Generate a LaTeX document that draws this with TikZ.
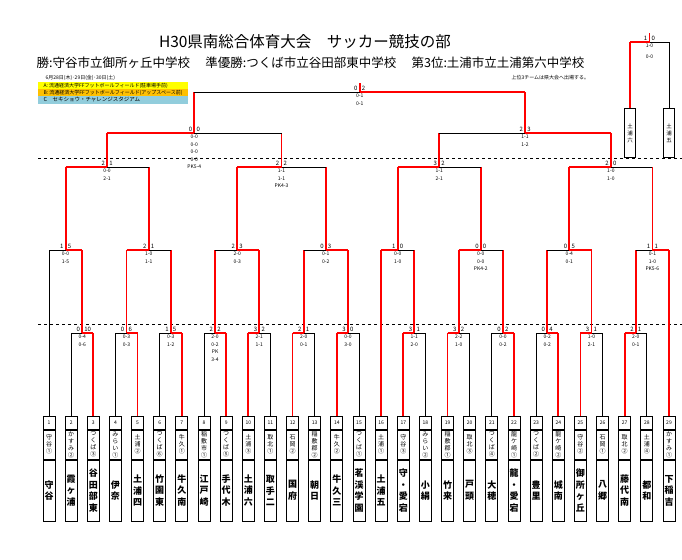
\documentclass[tikz,border=0pt]{standalone}
\usepackage{fontspec}
\setmainfont{Noto Sans CJK JP}
\usetikzlibrary{calc}
\definecolor{lgy}{HTML}{FFFF00}
\definecolor{lor}{HTML}{FFC000}
\definecolor{lbl}{HTML}{92CDDC}
\tikzset{
  bk/.style={line width=0.8pt,black},
  rd/.style={line width=1.8pt,red},
  lblx/.style={font=\fontsize{6}{6}\selectfont,inner sep=0.5pt},
  scx/.style={font=\fontsize{5}{7.5}\selectfont,inner sep=0.5pt,align=center},
  numb/.style={draw,line width=0.8pt,minimum width=12pt,minimum height=13pt,inner sep=0pt,font=\fontsize{5}{5}\selectfont,anchor=north},
  shortb/.style={draw,line width=0.8pt,minimum width=12pt,minimum height=29pt,inner sep=0pt,font=\fontsize{6}{7}\selectfont,align=center,anchor=north},
  fullb/.style={draw,line width=0.8pt,minimum width=12pt,minimum height=61pt,inner sep=0pt,font=\bfseries\fontsize{9}{11.5}\selectfont,align=center,anchor=north},
}
\newcommand\mt[8]{%
  \path let \p1=(#2), \p2=(#3) in coordinate (#1) at ({(\x1+\x2)/2},-#4pt);
  \draw[#5] (#2) -- (#2 |- #1);
  \draw[#6] (#3) -- (#3 |- #1);
  \draw[#7] (#2 |- #1) -- (#1);
  \draw[#8] (#1) -- (#3 |- #1);
}
\newcommand\lab[4]{%
  \node[lblx,anchor=south east] (#1-a) at ([xshift=-1.5pt,yshift=1pt]#1) {#2};
  \node[lblx,anchor=south west] (#1-b) at ([xshift=1.5pt,yshift=1pt]#1) {#3};
  \node[scx,anchor=north] (#1-s) at ([yshift=-1.5pt]#1) {#4};
}
\begin{document}
\begin{tikzpicture}[x=1pt,y=-1pt]
\useasboundingbox (0,0) rectangle (682,559);
% header
\node[font=\fontsize{15.5}{15.5}\selectfont] (title) at (305,42) {H30県南総合体育大会　サッカー競技の部};
\node[font=\fontsize{12.5}{12.5}\selectfont,anchor=west] (sub) at (33,63) {勝:守谷市立御所ヶ丘中学校　 準優勝:つくば市立谷田部東中学校　 第3位:土浦市立土浦第六中学校};
\node[font=\fontsize{5}{5}\selectfont,anchor=west] (date) at (42,78) {6月28日(木)･29日(金)･30日(土)};
\node[font=\fontsize{5}{5}\selectfont,anchor=west] (note) at (508,78) {上位3チームは県大会へ出場する。};
\node[fill=lgy,minimum width=150pt,minimum height=7pt,inner sep=0pt,anchor=north west] (la) at (38,82) {};
\node[font=\fontsize{5}{5}\selectfont,anchor=west] (lat) at (40,85.5) {A: 流通経済大学FFフットボールフィールド(駐車場手前)};
\node[fill=lor,minimum width=150pt,minimum height=7pt,inner sep=0pt,anchor=north west] (lb) at (38,89) {};
\node[font=\fontsize{5}{5}\selectfont,anchor=west] (lbt) at (40,92.5) {B: 流通経済大学FFフットボールフィールド(アップスペース前)};
\node[fill=lbl,minimum width=150pt,minimum height=8pt,inner sep=0pt,anchor=north west] (lc) at (38,96) {};
\node[font=\fontsize{5.5}{5.5}\selectfont,anchor=west] (lct) at (40,100) {C　セキショウ・チャレンジスタジアム};
% dashed lines
\coordinate (d1l) at (38,158); \coordinate (d1r) at (682,158);
\coordinate (d2l) at (38,324); \coordinate (d2r) at (682,324);
\draw[dashed,line width=0.7pt] (d1l) -- (d1r);
\draw[dashed,line width=0.7pt] (d2l) -- (d2r);
% teams
\foreach \i/\s/\f in {1/{守\\谷\\①}/{守\\谷},2/{か\\す\\み\\②}/{霞\\ヶ\\浦},3/{つ\\く\\ば\\③}/{谷\\田\\部\\東},4/{み\\ら\\い\\①}/{伊\\奈},5/{土\\浦\\②}/{土\\浦\\四},6/{つ\\く\\ば\\⑥}/{竹\\園\\東},7/{牛\\久\\①}/{牛\\久\\南},8/{稲\\敷\\市\\①}/{江\\戸\\崎},9/{つ\\く\\ば\\⑤}/{手\\代\\木},10/{土\\浦\\③}/{土\\浦\\六},11/{取\\北\\①}/{取\\手\\二},12/{石\\岡\\②}/{国\\府},13/{稲\\敷\\郡\\②}/{朝\\日},14/{牛\\久\\②}/{牛\\久\\三},15/{つ\\く\\ば\\①}/{茗\\渓\\学\\園},16/{土\\浦\\①}/{土\\浦\\五},17/{守\\谷\\③}/{守\\・\\愛\\宕},18/{み\\ら\\い\\②}/{小\\絹},19/{稲\\敷\\郡\\①}/{竹\\来},20/{取\\北\\③}/{戸\\頭},21/{つ\\く\\ば\\④}/{大\\穂},22/{龍\\ケ\\崎\\①}/{龍\\・\\愛\\宕},23/{つ\\く\\ば\\②}/{豊\\里},24/{龍\\ケ\\崎\\②}/{城\\南},25/{守\\谷\\②}/{御\\所\\ヶ\\丘},26/{石\\岡\\①}/{八\\郷},27/{取\\北\\②}/{藤\\代\\南},28/{土\\浦\\④}/{都\\和},29/{か\\す\\み\\①}/{下\\稲\\吉}}{
  \node[numb] (tn\i) at ({49+(\i-1)*22.143},416) {\i};
  \node[shortb] (ts\i) at (tn\i.south) {\s};
  \node[fullb] (tf\i) at (ts\i.south) {\f};
  \coordinate (T\i) at (tn\i.north);
}
% round 1
\mt{r1a}{T2}{T3}{333}{bk}{rd}{bk}{rd}\lab{r1a}{0}{10}{0-4\\0-6}
\mt{r1b}{T4}{T5}{333}{bk}{rd}{bk}{rd}\lab{r1b}{0}{6}{0-3\\0-3}
\mt{r1c}{T6}{T7}{333}{bk}{rd}{bk}{rd}\lab{r1c}{1}{5}{0-3\\1-2}
\mt{r1d}{T8}{T9}{333}{bk}{rd}{bk}{rd}\lab{r1d}{2}{2}{2-0\\0-2\\PK\\3-4}
\mt{r1e}{T10}{T11}{333}{rd}{bk}{rd}{bk}\lab{r1e}{3}{2}{2-1\\1-1}
\mt{r1f}{T12}{T13}{333}{rd}{bk}{rd}{bk}\lab{r1f}{2}{1}{2-0\\0-1}
\mt{r1g}{T14}{T15}{333}{rd}{bk}{rd}{bk}\lab{r1g}{3}{0}{0-0\\3-0}
\mt{r1h}{T17}{T18}{333}{rd}{bk}{rd}{bk}\lab{r1h}{3}{1}{1-1\\2-0}
\mt{r1i}{T19}{T20}{333}{rd}{bk}{rd}{bk}\lab{r1i}{3}{2}{2-2\\1-0}
\mt{r1j}{T21}{T22}{333}{bk}{rd}{bk}{rd}\lab{r1j}{0}{2}{0-0\\0-2}
\mt{r1k}{T23}{T24}{333}{bk}{rd}{bk}{rd}\lab{r1k}{0}{4}{0-2\\0-2}
\mt{r1l}{T25}{T26}{333}{rd}{bk}{rd}{bk}\lab{r1l}{3}{1}{1-0\\2-1}
\mt{r1m}{T27}{T28}{333}{rd}{bk}{rd}{bk}\lab{r1m}{2}{1}{2-0\\0-1}
% round 2
\mt{r2a}{T1}{r1a}{250}{bk}{rd}{bk}{rd}\lab{r2a}{1}{5}{0-0\\1-5}
\mt{r2b}{r1b}{r1c}{250}{rd}{rd}{rd}{bk}\lab{r2b}{2}{1}{1-0\\1-1}
\mt{r2c}{r1d}{r1e}{250}{rd}{rd}{bk}{rd}\lab{r2c}{2}{3}{2-0\\0-3}
\mt{r2d}{r1f}{r1g}{250}{rd}{rd}{bk}{rd}\lab{r2d}{0}{3}{0-1\\0-2}
\mt{r2e}{T16}{r1h}{250}{rd}{rd}{rd}{bk}\lab{r2e}{1}{0}{0-0\\1-0}
\mt{r2f}{r1i}{r1j}{250}{rd}{rd}{rd}{bk}\lab{r2f}{0}{0}{0-0\\0-0\\PK4-2}
\mt{r2g}{r1k}{r1l}{250}{rd}{rd}{bk}{rd}\lab{r2g}{0}{5}{0-4\\0-1}
\mt{r2h}{r1m}{T29}{250}{rd}{rd}{bk}{rd}\lab{r2h}{1}{1}{0-1\\1-0\\PK5-6}
% quarterfinals
\mt{qa}{r2a}{r2b}{167}{rd}{rd}{rd}{bk}\lab{qa}{2}{1}{0-0\\2-1}
\mt{qb}{r2c}{r2d}{167}{rd}{rd}{rd}{bk}\lab{qb}{2}{2}{1-1\\1-1\\PK4-3}
\mt{qc}{r2e}{r2f}{167}{rd}{rd}{rd}{bk}\lab{qc}{3}{2}{1-1\\2-1}
\mt{qd}{r2g}{r2h}{167}{rd}{rd}{rd}{bk}\lab{qd}{2}{0}{1-0\\1-0}
% semifinals
\mt{sa}{qa}{qb}{133}{rd}{rd}{rd}{bk}\lab{sa}{0}{0}{0-0\\0-0\\0-0\\0-0\\PK5-4}
\mt{sb}{qc}{qd}{133}{rd}{rd}{bk}{rd}\lab{sb}{2}{3}{1-1\\1-2}
% final
\mt{fin}{sa}{sb}{92}{rd}{rd}{bk}{rd}\lab{fin}{0}{2}{0-1\\0-1}
\coordinate (fintop) at ($(fin)+(0,-9)$);
\draw[rd] (fin) -- (fintop);
% third place
\node[draw,line width=0.8pt,minimum width=11pt,minimum height=49pt,inner sep=0pt,anchor=north,font=\fontsize{5.5}{7}\selectfont,align=center] (b3a) at (630,108) {土\\浦\\六};
\node[draw,line width=0.8pt,minimum width=11pt,minimum height=49pt,inner sep=0pt,anchor=north,font=\fontsize{5.5}{7}\selectfont,align=center] (b3b) at (669,108) {土\\浦\\五};
\mt{th}{b3a.north}{b3b.north}{42}{rd}{bk}{rd}{bk}\lab{th}{1}{0}{1-0\\[3pt]0-0}
\coordinate (thtop) at ($(th)+(0,-9)$);
\draw[rd] (th) -- (thtop);
\end{tikzpicture}
\end{document}
